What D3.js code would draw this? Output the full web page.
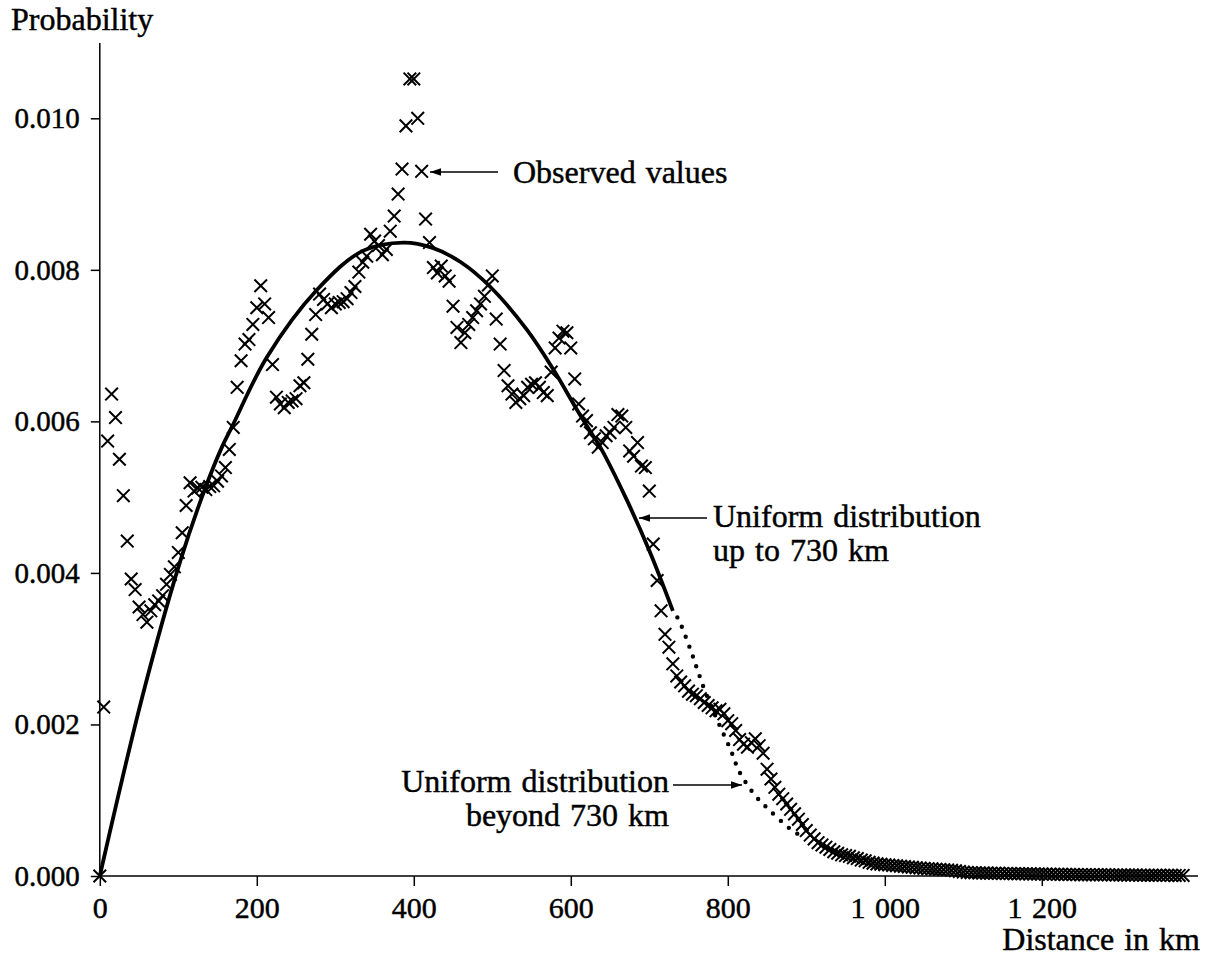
<!DOCTYPE html>
<html><head><meta charset="utf-8">
<script src="https://cdn.jsdelivr.net/npm/d3@7"></script>
<style>body{margin:0;background:#fff}svg{display:block}</style>
</head><body>
<svg id="chart" width="1210" height="958"></svg>
<script>
// Observed probability per 5 km distance class, in per mille (0.001), from 0 km to 1380 km
const binWidthKm = 5;
const observedPerMille = [
  0.00, 2.23, 5.74, 6.36, 6.05, 5.50, 5.02, 4.42, 3.92, 3.78,
  3.55, 3.45, 3.35, 3.50, 3.58, 3.63, 3.70, 3.85, 3.98, 4.08,
  4.27, 4.53, 4.89, 5.19, 5.08, 5.12, 5.13, 5.10, 5.14, 5.15,
  5.21, 5.28, 5.39, 5.63, 5.92, 6.45, 6.80, 7.02, 7.08, 7.28,
  7.50, 7.79, 7.55, 7.37, 6.75, 6.32, 6.23, 6.18, 6.25, 6.27,
  6.30, 6.47, 6.51, 6.82, 7.15, 7.41, 7.68, 7.61, 7.55, 7.50,
  7.55, 7.57, 7.58, 7.62, 7.70, 7.78, 7.97, 8.10, 8.18, 8.47,
  8.38, 8.32, 8.20, 8.27, 8.51, 8.71, 9.00, 9.33, 9.90, 10.52,
  10.52, 10.00, 9.30, 8.67, 8.36, 8.03, 7.96, 8.05, 7.92, 7.85,
  7.52, 7.24, 7.04, 7.17, 7.28, 7.37, 7.46, 7.55, 7.65, 7.80,
  7.92, 7.35, 7.02, 6.67, 6.47, 6.36, 6.25, 6.30, 6.34, 6.45,
  6.49, 6.51, 6.45, 6.38, 6.34, 6.65, 6.97, 7.10, 7.19, 7.17,
  6.97, 6.56, 6.23, 6.07, 6.01, 5.85, 5.77, 5.66, 5.72, 5.81,
  5.85, 5.92, 6.09, 6.07, 5.92, 5.61, 5.54, 5.72, 5.41, 5.39,
  5.08, 4.38, 3.90, 3.50, 3.19, 3.02, 2.80, 2.64, 2.56, 2.51,
  2.44, 2.40, 2.38, 2.34, 2.29, 2.25, 2.22, 2.18, 2.20, 2.14,
  2.05, 2.01, 1.92, 1.80, 1.74, 1.70, 1.76, 1.81, 1.72, 1.62,
  1.41, 1.28, 1.17, 1.08, 1.02, 0.95, 0.88, 0.82, 0.75, 0.68,
  0.60, 0.54, 0.49, 0.44, 0.41, 0.38, 0.35, 0.32, 0.30, 0.28,
  0.27, 0.26, 0.24, 0.23, 0.21, 0.20, 0.18, 0.17, 0.16, 0.155,
  0.150, 0.145, 0.140, 0.135, 0.130, 0.125, 0.120, 0.115, 0.110, 0.105,
  0.100, 0.097, 0.094, 0.090, 0.087, 0.084, 0.080, 0.075, 0.068, 0.060,
  0.052, 0.047, 0.044, 0.042, 0.040, 0.039, 0.038, 0.037, 0.036, 0.035,
  0.034, 0.033, 0.032, 0.031, 0.030, 0.030, 0.029, 0.028, 0.027, 0.026,
  0.025, 0.025, 0.024, 0.023, 0.022, 0.022, 0.021, 0.020, 0.020, 0.019,
  0.018, 0.018, 0.017, 0.017, 0.016, 0.016, 0.015, 0.015, 0.014, 0.014,
  0.013, 0.013, 0.012, 0.012, 0.012, 0.011, 0.011, 0.011, 0.010, 0.010,
  0.010, 0.009, 0.009, 0.009, 0.008, 0.008, 0.008
];

// Model curve (uniform distribution), [km, per mille]
const modelSolidKm       = [0, 54, 102, 134, 156, 168, 213, 277, 335, 387, 424, 460, 497, 544, 578, 608, 629, 637, 671, 701, 730];
const modelSolidPerMille = [0, 2.36, 4.14, 5.11, 5.67, 5.92, 6.85, 7.74, 8.25, 8.36, 8.29, 8.10, 7.78, 7.21, 6.68, 6.15, 5.80, 5.67, 4.97, 4.27, 3.50];
const modelDottedKm       = [730, 737, 752, 761, 771, 786, 803, 815, 835, 845, 856, 875, 885, 898];
const modelDottedPerMille = [3.50, 3.39, 3.00, 2.73, 2.44, 2.07, 1.68, 1.37, 1.06, 0.95, 0.84, 0.66, 0.58, 0.51];

const xTicks = [0, 200, 400, 600, 800, 1000, 1200];
const xTickLabels = ["0", "200", "400", "600", "800", "1 000", "1 200"];
const yTicks = [0, 0.002, 0.004, 0.006, 0.008, 0.010];
const yTickLabels = ["0.000", "0.002", "0.004", "0.006", "0.008", "0.010"];

const FONT = "'Liberation Serif','Times New Roman',serif";
const svg = d3.select("#chart");
const x = d3.scaleLinear().domain([0, 1200]).range([99.8, 1041.8]);
const y = d3.scaleLinear().domain([0, 0.010]).range([876, 118.3]);
const pm = v => v / 1000;

function styleText(sel, size) {
  sel.attr("font-family", FONT).attr("font-size", size).attr("fill", "#000")
    .attr("stroke", "#000").attr("stroke-width", 0.45).attr("word-spacing", 2);
}

// Axes
const xAxis = d3.axisBottom(x).tickValues(xTicks)
  .tickFormat((d, i) => xTickLabels[i]).tickSize(10).tickSizeOuter(0).tickPadding(11);
const gx = svg.append("g").attr("transform", `translate(0,${y(0)})`).call(xAxis);
gx.select(".domain").remove();
styleText(gx.selectAll("text"), 30);
gx.selectAll("line").attr("stroke", "#000").attr("stroke-width", 1.5);
svg.append("line").attr("x1", x(0)).attr("x2", 1198).attr("y1", y(0)).attr("y2", y(0))
  .attr("stroke", "#000").attr("stroke-width", 1.5);

const yAxis = d3.axisLeft(y).tickValues(yTicks)
  .tickFormat((d, i) => yTickLabels[i]).tickSize(9).tickSizeOuter(0).tickPadding(11);
const gy = svg.append("g").attr("transform", `translate(${x(0)},0)`).call(yAxis);
gy.select(".domain").remove();
styleText(gy.selectAll("text"), 29);
gy.selectAll("line").attr("stroke", "#000").attr("stroke-width", 1.5);
svg.append("line").attr("x1", x(0)).attr("x2", x(0)).attr("y1", 43).attr("y2", y(0))
  .attr("stroke", "#000").attr("stroke-width", 1.5);

// Model curves
const line = d3.line().x(d => x(d[0])).y(d => y(pm(d[1]))).curve(d3.curveCatmullRom.alpha(0.5));
svg.append("path").datum(modelSolidKm.map((k, i) => [k, modelSolidPerMille[i]]))
  .attr("d", line).attr("fill", "none").attr("stroke", "#000").attr("stroke-width", 3.8)
  .attr("stroke-linejoin", "round");
svg.append("path").datum(modelDottedKm.map((k, i) => [k, modelDottedPerMille[i]]))
  .attr("d", line).attr("fill", "none").attr("stroke", "#000").attr("stroke-width", 4.4)
  .attr("stroke-linecap", "round").attr("stroke-dasharray", "0 10.5").attr("stroke-dashoffset", -8);

// Observed crosses
const obs = observedPerMille.map((v, i) => ({ km: i * binWidthKm, p: pm(v) }));
svg.append("g").selectAll("path").data(obs).join("path")
  .attr("transform", d => `translate(${x(d.km)},${y(d.p)})`)
  .attr("d", "M-6.3,-6.3L6.3,6.3M-6.3,6.3L6.3,-6.3")
  .attr("stroke", "#000").attr("stroke-width", 2.0).attr("fill", "none");

// Labels
function txt(s, xx, yy, anchor) {
  styleText(svg.append("text").attr("x", xx).attr("y", yy).attr("text-anchor", anchor || "start").text(s), 32);
}
txt("Probability", 11, 30);
txt("Distance in km", 1200, 950, "end");
txt("Observed values", 513, 183);
txt("Uniform distribution", 713, 527);
txt("up to 730 km", 713, 561);
txt("Uniform distribution", 669, 792, "end");
txt("beyond 730 km", 669, 826, "end");

// Arrows
function arrow(x1, y1, x2, y2) {
  svg.append("line").attr("x1", x1).attr("y1", y1).attr("x2", x2).attr("y2", y2)
    .attr("stroke", "#000").attr("stroke-width", 1.3);
  const dir = Math.sign(x2 - x1);
  svg.append("path")
    .attr("d", `M${x2},${y2}L${x2 - dir * 11},${y2 - 3.8}L${x2 - dir * 11},${y2 + 3.8}Z`)
    .attr("fill", "#000");
}
arrow(498, 172, 430, 172);
arrow(707, 518, 639, 518);
arrow(673, 785, 742, 785);
</script>
</body></html>
